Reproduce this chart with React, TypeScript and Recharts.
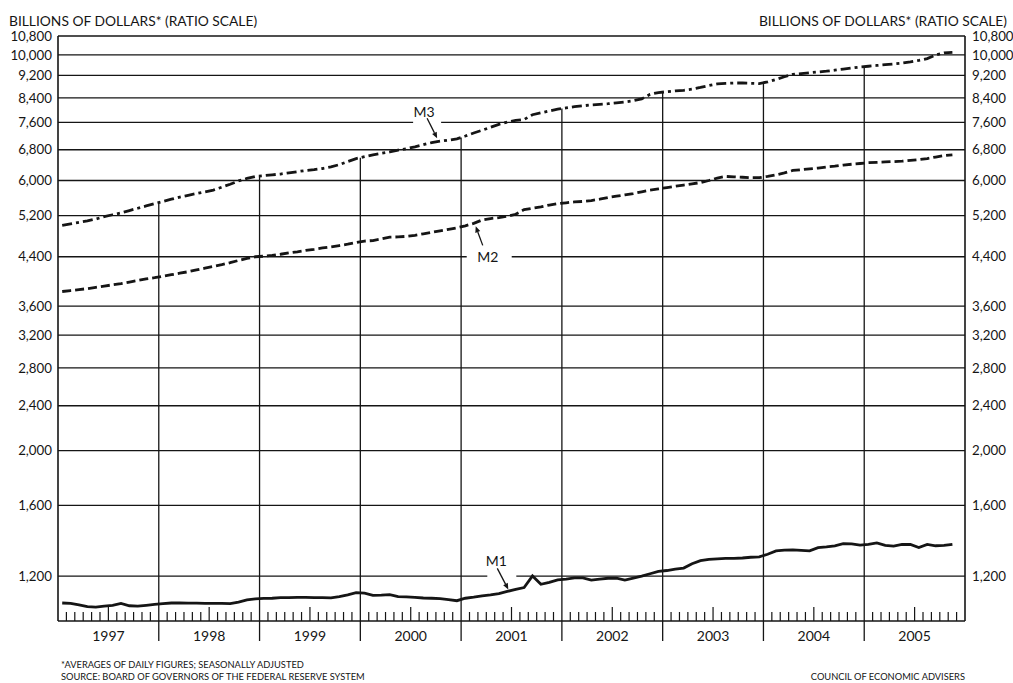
import {
  LineChart,
  Line,
  XAxis,
  YAxis,
  CartesianGrid,
  ReferenceLine,
  ReferenceDot,
} from "recharts";

const INK = "#151515";
const FONT = "Lato, 'DejaVu Sans', sans-serif";

// monthly, Jan 1997 .. Nov 2005, billions of dollars
const years = ["1997", "1998", "1999", "2000", "2001", "2002", "2003", "2004", "2005"];
const yTicks = [1200, 1600, 2000, 2400, 2800, 3200, 3600, 4400, 5200, 6000, 6800, 7600, 8400, 9200, 10000, 10800];

const m1 = [
  1076, 1074, 1068, 1060, 1058, 1062, 1066, 1074, 1064, 1062, 1066, 1070,
  1073, 1076, 1076, 1075, 1075, 1074, 1074, 1074, 1073, 1080, 1090, 1094,
  1096, 1097, 1100, 1100, 1101, 1101, 1100, 1100, 1099, 1104, 1112, 1122,
  1120, 1110, 1111, 1113, 1104, 1103, 1101, 1098, 1097, 1095, 1091, 1086,
  1097, 1102, 1108, 1112, 1118, 1128, 1137, 1146, 1201, 1161, 1170, 1182,
  1186, 1192, 1192, 1181, 1186, 1190, 1190, 1181, 1190, 1200, 1212, 1224,
  1228, 1235, 1240, 1262, 1278, 1285, 1288, 1290, 1290, 1292, 1296, 1298,
  1312, 1330, 1334, 1336, 1333, 1330, 1348, 1352, 1358, 1370, 1368, 1362,
  1366, 1374, 1360, 1356, 1366, 1365, 1348, 1366, 1358, 1360, 1366,
];

const m2 = [
  3820, 3835, 3850, 3865, 3885, 3905, 3925, 3945, 3970, 3995, 4020, 4040,
  4065, 4090, 4115, 4140, 4170, 4200, 4230, 4260, 4295, 4335, 4370, 4400,
  4410, 4425, 4445, 4470, 4490, 4515, 4535, 4560, 4580, 4605, 4630, 4660,
  4690, 4700, 4730, 4765, 4770, 4780, 4800, 4830, 4860, 4890, 4920, 4950,
  4990, 5040, 5110, 5140, 5160, 5190, 5230, 5330, 5360, 5390, 5430, 5460,
  5480, 5500, 5510, 5530, 5560, 5600, 5630, 5660, 5690, 5730, 5770, 5800,
  5830, 5860, 5890, 5920, 5950, 6000, 6060, 6100, 6090, 6080, 6070, 6070,
  6100, 6140, 6190, 6250, 6270, 6290, 6310, 6340, 6360, 6390, 6410, 6430,
  6450, 6460, 6470, 6480, 6490, 6510, 6530, 6560, 6600, 6640, 6660,
];

const m3 = [
  5000, 5030, 5060, 5090, 5130, 5180, 5220, 5260, 5310, 5360, 5410, 5460,
  5510, 5560, 5610, 5650, 5690, 5730, 5770, 5840, 5910, 5990, 6050, 6100,
  6120, 6140, 6160, 6190, 6220, 6250, 6270, 6300, 6340, 6400, 6480, 6560,
  6610, 6660, 6700, 6740, 6790, 6830, 6880, 6940, 7000, 7040, 7070, 7110,
  7190, 7280, 7360, 7450, 7540, 7610, 7660, 7690, 7840, 7900, 7960, 8020,
  8060, 8100, 8130, 8160, 8180, 8200, 8230, 8260, 8300, 8360, 8520, 8580,
  8610, 8640, 8660, 8700, 8760, 8830, 8890, 8910, 8920, 8920, 8910, 8900,
  8960, 9050, 9150, 9240, 9270, 9300, 9330, 9360, 9400, 9440, 9480, 9520,
  9550, 9580, 9610, 9640, 9670, 9720, 9780, 9850, 10000, 10080, 10100,
];

const data = m1.map((v, i) => ({ t: i + 0.5, m1: v, m2: m2[i], m3: m3[i] }));
const monthTicks = Array.from({ length: 109 }, (_, i) => i);
// year boundaries inside the plot; lines rise up to the M3 curve
const yearEdges = [12, 24, 36, 48, 60, 72, 84, 96];

function MonthTick({ x, y, payload }: any) {
  const v = payload.value;
  const m = v % 12;
  if (v === 0 || v === 108) return <g />;
  if (m === 0) {
    return <line x1={x} x2={x} y1={y} y2={y + 20} stroke={INK} strokeWidth={1.3} />;
  }
  const h = m === 6 ? 14 : 9;
  return (
    <g>
      <line x1={x} x2={x} y1={y} y2={y - h} stroke={INK} strokeWidth={1.2} />
      {m === 6 && (
        <text x={x} y={y + 20} textAnchor="middle" fontSize={14} fontFamily={FONT} fill={INK}>
          {years[(v - 6) / 12]}
        </text>
      )}
    </g>
  );
}

type CalloutCfg = {
  text: string;
  tip: [number, number];
  tail: [number, number];
  label: [number, number];
  box: [number, number, number, number];
};

function Callout({ cx, cy, cfg }: any) {
  const c = cfg as CalloutCfg;
  const tx = cx + c.tip[0];
  const ty = cy + c.tip[1];
  const sx = cx + c.tail[0];
  const sy = cy + c.tail[1];
  const len = Math.hypot(tx - sx, ty - sy);
  const ux = (tx - sx) / len;
  const uy = (ty - sy) / len;
  const bx = tx - ux * 6;
  const by = ty - uy * 6;
  const head = `${tx},${ty} ${bx - uy * 2.6},${by + ux * 2.6} ${bx + uy * 2.6},${by - ux * 2.6}`;
  return (
    <g>
      <rect x={cx + c.box[0]} y={cy + c.box[1]} width={c.box[2]} height={c.box[3]} fill="#fff" />
      <line x1={sx} y1={sy} x2={bx} y2={by} stroke={INK} strokeWidth={1.3} />
      <polygon points={head} fill={INK} />
      <text
        x={cx + c.label[0]}
        y={cy + c.label[1]}
        textAnchor="middle"
        dominantBaseline="central"
        fontSize={14}
        fontFamily={FONT}
        fill={INK}
      >
        {c.text}
      </text>
    </g>
  );
}

const m3Call: CalloutCfg = { text: "M3", tip: [-3, -3], tail: [-13, -23], label: [-16, -30], box: [-27, -37, 28, 23] };
const m2Call: CalloutCfg = { text: "M2", tip: [2, 3], tail: [9, 22], label: [14, 33], box: [-7, 24, 45, 19] };
const m1Call: CalloutCfg = { text: "M1", tip: [1, -2], tail: [-10, -23], label: [-11, -31], box: [-20, -38, 29, 27] };

export default function App() {
  const small = { fontSize: 9.3, fontFamily: FONT, color: INK, position: "absolute" as const, whiteSpace: "nowrap" as const, lineHeight: "12px" };
  const head = { fontSize: 13.8, fontFamily: FONT, color: INK, position: "absolute" as const, top: 13, whiteSpace: "nowrap" as const, lineHeight: "16px" };
  return (
    <div style={{ position: "absolute", left: 0, top: 0, width: 1013, height: 683, background: "#fff" }}>
      <div style={{ ...head, left: 9 }}>BILLIONS OF DOLLARS* (RATIO SCALE)</div>
      <div style={{ ...head, right: 6 }}>BILLIONS OF DOLLARS* (RATIO SCALE)</div>
      <LineChart width={1013} height={683} data={data} margin={{ top: 36, right: 0, bottom: 0, left: 0 }}>
        <CartesianGrid vertical={false} stroke={INK} strokeWidth={1.3} horizontalValues={yTicks} />
        <XAxis
          dataKey="t"
          type="number"
          domain={[0, 108]}
          ticks={monthTicks}
          interval={0}
          height={62}
          tickSize={0}
          tickMargin={0}
          tickLine={false}
          axisLine={{ stroke: INK, strokeWidth: 1.6 }}
          tick={<MonthTick />}
        />
        <YAxis
          type="number"
          scale="log"
          domain={[1000, 10800]}
          allowDataOverflow
          ticks={yTicks}
          interval={0}
          width={58}
          tickSize={0}
          tickMargin={6}
          tickLine={false}
          axisLine={{ stroke: INK, strokeWidth: 1.6 }}
          tickFormatter={(v: number) => v.toLocaleString("en-US")}
          tick={{ fill: INK, fontSize: 13.3, fontFamily: FONT }}
        />
        <YAxis
          yAxisId="r"
          orientation="right"
          type="number"
          scale="log"
          domain={[1000, 10800]}
          allowDataOverflow
          ticks={yTicks}
          interval={0}
          width={48}
          tickSize={0}
          tickMargin={7}
          tickLine={false}
          axisLine={{ stroke: INK, strokeWidth: 1.6 }}
          tickFormatter={(v: number) => v.toLocaleString("en-US")}
          tick={{ fill: INK, fontSize: 13.3, fontFamily: FONT, textAnchor: "start" }}
        />
        {yearEdges.map((e) => (
          <ReferenceLine
            key={e}
            segment={[
              { x: e, y: 1000 },
              { x: e, y: (m3[e - 1] + m3[e]) / 2 },
            ]}
            stroke={INK}
            strokeWidth={1.3}
          />
        ))}
        <ReferenceDot x={data[45].t} y={m3[45]} r={0} shape={(p: any) => <Callout {...p} cfg={m3Call} />} />
        <ReferenceDot x={data[49].t} y={m2[49]} r={0} shape={(p: any) => <Callout {...p} cfg={m2Call} />} />
        <ReferenceDot x={data[53].t} y={m1[53]} r={0} shape={(p: any) => <Callout {...p} cfg={m1Call} />} />
        <Line dataKey="m3" type="linear" stroke={INK} strokeWidth={2.8} strokeDasharray="10 4 3 4" dot={false} isAnimationActive={false} />
        <Line dataKey="m2" type="linear" stroke={INK} strokeWidth={2.8} strokeDasharray="9 4" dot={false} isAnimationActive={false} />
        <Line dataKey="m1" type="linear" stroke={INK} strokeWidth={2.8} dot={false} isAnimationActive={false} />
      </LineChart>
      <div style={{ ...small, left: 61, top: 659 }}>*AVERAGES OF DAILY FIGURES; SEASONALLY ADJUSTED</div>
      <div style={{ ...small, left: 61, top: 671 }}>SOURCE: BOARD OF GOVERNORS OF THE FEDERAL RESERVE SYSTEM</div>
      <div style={{ ...small, right: 48, top: 671 }}>COUNCIL OF ECONOMIC ADVISERS</div>
    </div>
  );
}
